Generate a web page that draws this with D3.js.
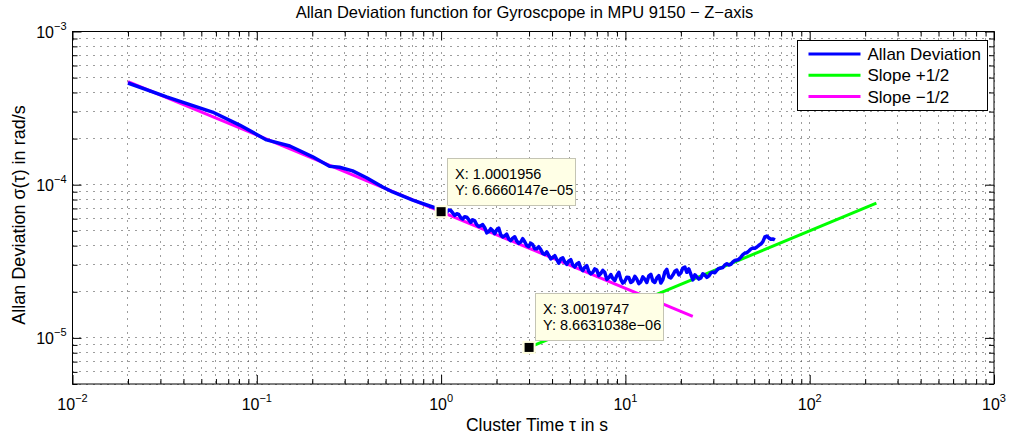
<!DOCTYPE html>
<html>
<head>
<meta charset="utf-8">
<script src="https://cdn.jsdelivr.net/npm/d3@7"></script>
<style>
  html, body { margin: 0; padding: 0; background: #fff; }
  svg { display: block; font-family: "Liberation Sans", Arial, Helvetica, sans-serif; }
</style>
</head>
<body>
<svg id="chart" width="1011" height="438"></svg>
<script>
// ── Data ──────────────────────────────────────────────────────────────────
// Allan deviation of the Z gyro (cluster time in s, sigma in rad/s)
const allanTau = [
  0.02, 0.0324, 0.0575, 0.0807, 0.113, 0.151, 0.201, 0.248, 0.281, 0.331,
  0.394, 0.482, 0.546, 0.702, 0.900,
  1.000, 1.023, 1.046, 1.072, 1.099, 1.127, 1.156, 1.185, 1.215, 1.246,
  1.278, 1.310, 1.343, 1.377, 1.412, 1.448, 1.484, 1.522, 1.561, 1.600,
  1.641, 1.682, 1.725, 1.769, 1.813, 1.859, 1.906, 1.954, 2.004, 2.054,
  2.106, 2.159, 2.214, 2.270, 2.328, 2.386, 2.447, 2.509, 2.573, 2.638,
  2.705, 2.773, 2.843, 2.915, 2.989, 3.064, 3.142, 3.222, 3.304, 3.387,
  3.473, 3.561, 3.651, 3.744, 3.838, 3.936, 4.036, 4.138, 4.242, 4.350,
  4.460, 4.573, 4.688, 4.807, 4.929, 5.054, 5.181, 5.313, 5.447, 5.585,
  5.726, 5.871, 6.020, 6.172, 6.328, 6.489, 6.653, 6.822, 6.994, 7.171,
  7.352, 7.539, 7.730, 7.926, 8.126, 8.332, 8.543, 8.759, 8.981, 9.208,
  9.441, 9.680, 9.925, 10.18, 10.43, 10.70, 10.97, 11.25, 11.53, 11.82,
  12.12, 12.43, 12.74, 13.07, 13.40, 13.74, 14.09, 14.44, 14.81, 15.19,
  15.57, 15.97, 16.37, 16.78, 17.20, 17.64, 18.09, 18.55, 19.01, 19.50,
  19.99, 20.50, 21.02, 21.55, 22.09, 22.66, 23.23, 23.82, 24.42, 25.04,
  25.67, 26.32, 26.99, 27.67, 28.37, 29.09, 29.83, 30.59, 31.36, 32.15,
  32.96, 33.80, 34.65, 35.53, 36.43, 37.35, 38.30, 39.27, 40.26, 41.28,
  42.32, 43.40, 44.49, 45.62, 46.77, 47.96, 49.17, 50.42, 51.69, 53.00,
  54.34, 55.72, 57.13, 58.57, 60.05, 61.57, 63.13, 63.90, 64.73
];
const allanSigma = [
  4.61e-4, 3.74e-4, 2.98e-4, 2.45e-4, 1.96e-4, 1.79e-4, 1.52e-4, 1.32e-4, 1.30e-4, 1.23e-4,
  1.11e-4, 9.66e-5, 8.96e-5, 7.94e-5, 7.15e-5,
  6.84e-5, 6.95e-5, 6.73e-5, 6.62e-5, 6.84e-5, 6.80e-5, 6.54e-5, 6.29e-5, 6.46e-5, 6.39e-5,
  6.09e-5, 5.97e-5, 6.18e-5, 6.14e-5, 5.91e-5, 5.68e-5, 5.90e-5, 5.81e-5, 5.48e-5, 5.33e-5,
  5.40e-5, 5.49e-5, 5.24e-5, 4.85e-5, 4.93e-5, 5.16e-5, 5.00e-5, 4.79e-5, 5.08e-5, 5.21e-5,
  4.71e-5, 4.56e-5, 4.64e-5, 4.75e-5, 4.42e-5, 4.31e-5, 4.48e-5, 4.57e-5, 4.29e-5, 4.14e-5,
  4.22e-5, 4.44e-5, 4.24e-5, 4.01e-5, 3.94e-5, 4.15e-5, 4.06e-5, 3.82e-5, 3.82e-5, 3.94e-5,
  3.78e-5, 3.56e-5, 3.51e-5, 3.64e-5, 3.46e-5, 3.28e-5, 3.35e-5, 3.44e-5, 3.25e-5, 3.07e-5,
  3.28e-5, 3.33e-5, 3.13e-5, 3.02e-5, 3.18e-5, 3.24e-5, 2.99e-5, 2.90e-5, 3.04e-5, 3.10e-5,
  2.85e-5, 2.75e-5, 2.89e-5, 2.96e-5, 2.72e-5, 2.62e-5, 2.68e-5, 2.82e-5, 2.77e-5, 2.55e-5,
  2.63e-5, 2.76e-5, 2.67e-5, 2.41e-5, 2.47e-5, 2.59e-5, 2.44e-5, 2.37e-5, 2.55e-5, 2.68e-5,
  2.41e-5, 2.28e-5, 2.34e-5, 2.49e-5, 2.48e-5, 2.30e-5, 2.35e-5, 2.52e-5, 2.42e-5, 2.26e-5,
  2.32e-5, 2.50e-5, 2.42e-5, 2.30e-5, 2.54e-5, 2.60e-5, 2.35e-5, 2.30e-5, 2.46e-5, 2.55e-5,
  2.28e-5, 2.40e-5, 2.69e-5, 2.80e-5, 2.50e-5, 2.46e-5, 2.57e-5, 2.72e-5, 2.77e-5, 2.58e-5,
  2.65e-5, 2.86e-5, 2.90e-5, 2.68e-5, 2.82e-5, 2.60e-5, 2.39e-5, 2.58e-5, 2.50e-5, 2.42e-5,
  2.46e-5, 2.62e-5, 2.57e-5, 2.48e-5, 2.54e-5, 2.65e-5, 2.69e-5, 2.66e-5, 2.77e-5, 2.84e-5,
  2.86e-5, 2.88e-5, 2.99e-5, 3.05e-5, 2.99e-5, 3.02e-5, 3.13e-5, 3.20e-5, 3.22e-5, 3.26e-5,
  3.37e-5, 3.50e-5, 3.58e-5, 3.60e-5, 3.69e-5, 3.80e-5, 3.86e-5, 3.84e-5, 3.92e-5, 4.02e-5,
  4.10e-5, 4.25e-5, 4.56e-5, 4.62e-5, 4.49e-5, 4.40e-5, 4.42e-5, 4.40e-5, 4.36e-5
];

// Fitted slope lines (end points)
const slopePlusTau   = [3.0019747, 230];
const slopePlusSigma = [8.6631038e-6, 7.58e-5];
const slopeMinusTau   = [0.02, 23.2];
const slopeMinusSigma = [4.714e-4, 1.384e-5];

// Data tips
const tipTau   = [1.0001956, 3.0019747];
const tipSigma = [6.6660147e-5, 8.6631038e-6];
const tipXText = ['1.0001956', '3.0019747'];
const tipYText = ['6.6660147e\u221205', '8.6631038e\u221206'];

// Axes
const xDomain = [1e-2, 1e3];
const yDomain = [5e-6, 1e-3];
const xTickExps = [-2, -1, 0, 1, 2, 3];
const yTickExps = [-5, -4, -3];

const legendLabels = ['Allan Deviation', 'Slope +1/2', 'Slope \u22121/2'];
const legendColors = ['#0000ff', '#00ff00', '#ff00ff'];

const titleText  = 'Allan Deviation function for Gyroscpope in MPU 9150 \u2212 Z\u2212axis';
const xLabelText = 'Cluster Time \u03c4 in s';
const yLabelText = 'Allan Deviation \u03c3(\u03c4) in rad/s';

(function () {
  'use strict';

  const L = 72.5, R = 994, T = 31.5, B = 384;
  const svg = d3.select('#chart');

  const x = d3.scaleLog().domain(xDomain).range([L, R]);
  const y = d3.scaleLog().domain(yDomain).range([B, T]);

  const isMajor = v => Math.abs(Math.log10(v) - Math.round(Math.log10(v))) < 1e-9;
  const xAll = x.ticks().filter(v => v >= xDomain[0] * 0.999 && v <= xDomain[1] * 1.001);
  const yAll = y.ticks().filter(v => v >= yDomain[0] * 0.999 && v <= yDomain[1] * 1.001);

  // ── Dotted grid (major + minor) ─────────────────────────────────────────
  const grid = svg.append('g')
    .attr('stroke', '#3a3a3a').attr('stroke-width', 1).attr('stroke-dasharray', '1,6');
  xAll.forEach(v => {
    const px = Math.round(x(v) - 0.5) + 0.5;
    grid.append('line').attr('x1', px).attr('x2', px).attr('y1', T).attr('y2', B);
  });
  yAll.forEach(v => {
    const py = Math.round(y(v) - 0.5) + 0.5;
    grid.append('line').attr('x1', L).attr('x2', R).attr('y1', py).attr('y2', py);
  });

  // ── Tick marks on all four sides ────────────────────────────────────────
  const xMinor = xAll.filter(v => !isMajor(v));
  const xMajor = xAll.filter(isMajor);
  const yMinor = yAll.filter(v => !isMajor(v));
  const yMajor = yAll.filter(isMajor);

  const tickStyle = ax => {
    ax.select('.domain').remove();
    ax.selectAll('.tick line').attr('stroke', '#000');
    ax.selectAll('.tick text').remove();
  };
  const fmt = () => '';
  svg.append('g').attr('transform', `translate(0,${B})`)
    .call(d3.axisBottom(x).tickValues(xMinor).tickSize(-5).tickFormat(fmt)).call(tickStyle);
  svg.append('g').attr('transform', `translate(0,${B})`)
    .call(d3.axisBottom(x).tickValues(xMajor).tickSize(-9).tickFormat(fmt)).call(tickStyle);
  svg.append('g').attr('transform', `translate(0,${T})`)
    .call(d3.axisTop(x).tickValues(xMinor).tickSize(-5).tickFormat(fmt)).call(tickStyle);
  svg.append('g').attr('transform', `translate(0,${T})`)
    .call(d3.axisTop(x).tickValues(xMajor).tickSize(-9).tickFormat(fmt)).call(tickStyle);
  svg.append('g').attr('transform', `translate(${L},0)`)
    .call(d3.axisLeft(y).tickValues(yMinor).tickSize(-5).tickFormat(fmt)).call(tickStyle);
  svg.append('g').attr('transform', `translate(${L},0)`)
    .call(d3.axisLeft(y).tickValues(yMajor).tickSize(-9).tickFormat(fmt)).call(tickStyle);
  svg.append('g').attr('transform', `translate(${R},0)`)
    .call(d3.axisRight(y).tickValues(yMinor).tickSize(-5).tickFormat(fmt)).call(tickStyle);
  svg.append('g').attr('transform', `translate(${R},0)`)
    .call(d3.axisRight(y).tickValues(yMajor).tickSize(-9).tickFormat(fmt)).call(tickStyle);

  // Axes box
  svg.append('rect')
    .attr('x', L).attr('y', T).attr('width', R - L).attr('height', B - T)
    .attr('fill', 'none').attr('stroke', '#000').attr('stroke-width', 1);

  // ── Tick labels 10^n ────────────────────────────────────────────────────
  xTickExps.forEach(e => {
    const t = svg.append('text')
      .attr('x', x(Math.pow(10, e))).attr('y', 410)
      .attr('text-anchor', 'middle').attr('font-size', 16).attr('fill', '#000');
    t.append('tspan').text('10');
    t.append('tspan').attr('dy', -8).attr('font-size', 11).text(e < 0 ? '\u2212' + (-e) : String(e));
  });
  yTickExps.forEach(e => {
    const t = svg.append('text')
      .attr('x', L - 6).attr('y', y(Math.pow(10, e)) + 6)
      .attr('text-anchor', 'end').attr('font-size', 16).attr('fill', '#000');
    t.append('tspan').text('10');
    t.append('tspan').attr('dy', -8).attr('font-size', 11).text('\u2212' + (-e));
  });

  // ── Title & axis labels ─────────────────────────────────────────────────
  svg.append('text')
    .attr('x', 524.5).attr('y', 18)
    .attr('text-anchor', 'middle').attr('font-size', 16.5).text(titleText);
  svg.append('text')
    .attr('x', 537).attr('y', 431)
    .attr('text-anchor', 'middle').attr('font-size', 17.5).text(xLabelText);
  svg.append('text')
    .attr('transform', 'translate(25,215) rotate(-90)')
    .attr('text-anchor', 'middle').attr('font-size', 18).text(yLabelText);

  // ── Lines ───────────────────────────────────────────────────────────────
  const line = d3.line().x(d => x(d[0])).y(d => y(d[1]));

  svg.append('path')
    .datum(d3.zip(slopeMinusTau, slopeMinusSigma))
    .attr('d', line).attr('fill', 'none')
    .attr('stroke', legendColors[2]).attr('stroke-width', 3);
  svg.append('path')
    .datum(d3.zip(slopePlusTau, slopePlusSigma))
    .attr('d', line).attr('fill', 'none')
    .attr('stroke', legendColors[1]).attr('stroke-width', 3);
  svg.append('path')
    .datum(d3.zip(allanTau, allanSigma))
    .attr('d', line).attr('fill', 'none')
    .attr('stroke', legendColors[0]).attr('stroke-width', 3.5)
    .attr('stroke-linejoin', 'round');

  // ── Legend ──────────────────────────────────────────────────────────────
  const lg = svg.append('g').attr('transform', 'translate(797.5,40.5)');
  lg.append('rect').attr('width', 190).attr('height', 70)
    .attr('fill', '#fff').attr('stroke', '#000').attr('stroke-width', 1);
  legendLabels.forEach((lab, i) => {
    const cy = 13.5 + i * 21.3;
    lg.append('line').attr('x1', 11).attr('x2', 63).attr('y1', cy).attr('y2', cy)
      .attr('stroke', legendColors[i]).attr('stroke-width', 3);
    lg.append('text').attr('x', 70).attr('y', cy + 6)
      .attr('font-size', 17).text(lab);
  });

  // ── Data tips ───────────────────────────────────────────────────────────
  tipTau.forEach((tv, i) => {
    const mx = x(tv), my = y(tipSigma[i]);
    const bx = mx + 6, by = my - 7 - 47;
    svg.append('rect')
      .attr('x', Math.round(bx) + 0.5).attr('y', Math.round(by) + 0.5)
      .attr('width', 128).attr('height', 47)
      .attr('fill', '#ffffe6').attr('stroke', '#c4c4b4').attr('stroke-width', 1);
    svg.append('text').attr('x', bx + 8).attr('y', by + 21)
      .attr('font-size', 14.5).text('X: ' + tipXText[i]);
    svg.append('text').attr('x', bx + 8).attr('y', by + 37)
      .attr('font-size', 14.5).text('Y: ' + tipYText[i]);
    svg.append('rect')
      .attr('x', mx - 6.5).attr('y', my - 6.5).attr('width', 13).attr('height', 13)
      .attr('fill', '#ffffe0');
    svg.append('rect')
      .attr('x', mx - 4.5).attr('y', my - 4.5).attr('width', 9).attr('height', 9)
      .attr('fill', '#000');
  });
})();
</script>
</body>
</html>
